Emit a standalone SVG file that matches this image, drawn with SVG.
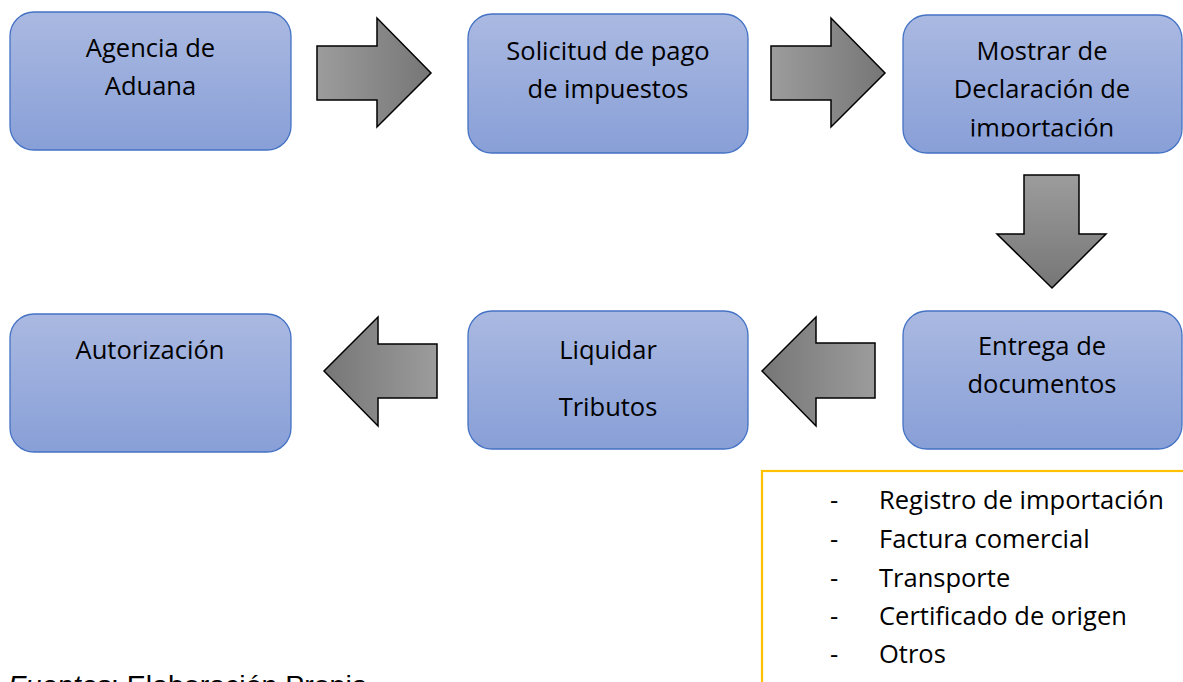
<svg xmlns="http://www.w3.org/2000/svg" width="1183" height="682" viewBox="0 0 1183 682">
<style>
.box{fill:url(#bg);stroke:#4472C4;stroke-width:1.3}
.t{font-family:"Open Sans",Lato,"Liberation Sans",sans-serif;font-size:25.5px;fill:#000;text-anchor:middle}
.l{font-family:"Open Sans",Lato,"Liberation Sans",sans-serif;font-size:25.5px;fill:#000}
.arr{stroke:#000;stroke-width:1.5;stroke-linejoin:miter}
</style>
<defs>
<linearGradient id="bg" x1="0" y1="0" x2="0" y2="1">
<stop offset="0" stop-color="#AAB9E1"/>
<stop offset="1" stop-color="#889FD7"/>
</linearGradient>
<linearGradient id="gr" x1="0" y1="0" x2="1" y2="0">
<stop offset="0" stop-color="#9C9C9C"/>
<stop offset="1" stop-color="#767676"/>
</linearGradient>
<linearGradient id="gl" x1="1" y1="0" x2="0" y2="0">
<stop offset="0" stop-color="#9C9C9C"/>
<stop offset="1" stop-color="#767676"/>
</linearGradient>
<linearGradient id="gd" x1="0" y1="0" x2="0" y2="1">
<stop offset="0" stop-color="#9C9C9C"/>
<stop offset="1" stop-color="#767676"/>
</linearGradient>
<clipPath id="c3"><rect x="903" y="15" width="280" height="121.5"/></clipPath>
</defs>
<rect width="1183" height="682" fill="#fff"/>
<g id="n1"><rect class="box" x="10" y="12" width="281" height="138" rx="24"/>
<text class="t" x="150.5" y="57">Agencia de</text><text class="t" x="150.5" y="95">Aduana</text></g>
<g id="n2"><rect class="box" x="468" y="14" width="280" height="139" rx="24"/>
<text class="t" x="608" y="60">Solicitud de pago</text><text class="t" x="608" y="98">de impuestos</text></g>
<g id="n3"><rect class="box" x="903" y="15" width="279" height="138" rx="24"/>
<g clip-path="url(#c3)"><text class="t" x="1042" y="60">Mostrar de</text><text class="t" x="1042" y="98">Declaración de</text><text class="t" x="1042" y="137">importación</text></g></g>
<g id="n4"><rect class="box" x="903" y="311" width="279" height="138" rx="24"/>
<text class="t" x="1042" y="355">Entrega de</text><text class="t" x="1042" y="393">documentos</text></g>
<g id="n5"><rect class="box" x="468" y="311" width="280" height="138" rx="24"/>
<text class="t" x="608" y="359">Liquidar</text><text class="t" x="608" y="416">Tributos</text></g>
<g id="n6"><rect class="box" x="10" y="314" width="281" height="138" rx="24"/>
<text class="t" x="150" y="359">Autorización</text></g>
<g id="connectors">
<polygon class="arr" fill="url(#gr)" points="317,46 377,46 377,18 431,73 377,127 377,100 317,100"/>
<polygon class="arr" fill="url(#gr)" points="771,46 831,46 831,18 885,73 831,127 831,100 771,100"/>
<polygon class="arr" fill="url(#gd)" points="1024,175 1079,175 1079,234 1106,234 1052,288 997,234 1024,234"/>
<polygon class="arr" fill="url(#gl)" points="875,343 816,343 816,317 762,371 816,426 816,398 875,398"/>
<polygon class="arr" fill="url(#gl)" points="437,344 378,344 378,317 324,371 378,426 378,398 437,398"/>
</g>
<g id="docs">
<rect x="762" y="471" width="430" height="230" fill="none" stroke="#FFC000" stroke-width="2.2"/>
<text class="l" x="830" y="509">-</text><text class="l" x="879" y="509">Registro de importación</text>
<text class="l" x="830" y="548">-</text><text class="l" x="879" y="548">Factura comercial</text>
<text class="l" x="830" y="587">-</text><text class="l" x="879" y="587">Transporte</text>
<text class="l" x="830" y="625">-</text><text class="l" x="879" y="625">Certificado de origen</text>
<text class="l" x="830" y="663">-</text><text class="l" x="879" y="663">Otros</text>
</g>
<text x="8" y="695" font-family="'Liberation Sans',Arial,sans-serif" font-size="28.5px" fill="#000"><tspan font-style="italic">Fuentes</tspan>: Elaboración Propia</text>
</svg>
